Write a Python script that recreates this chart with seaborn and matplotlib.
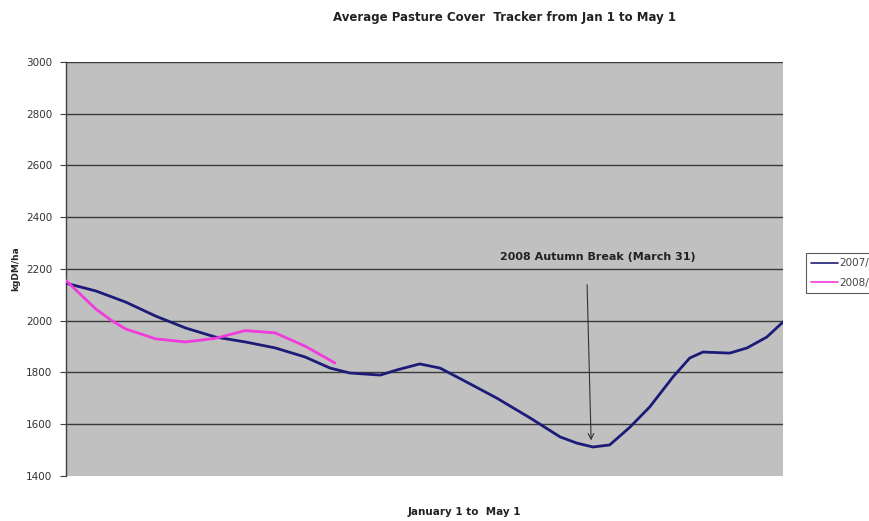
import pandas as pd
import matplotlib.pyplot as plt
import seaborn as sns

# days since Jan 1
days_0708 = [0, 2.5, 5, 10, 15, 20, 25, 30, 35, 40, 44.2, 47.5, 52.6, 55.4,
             59.2, 62.6, 66.4, 72.1, 77.7, 82.7, 85.5, 88.2, 91.0, 94.4, 97.7,
             101.6, 104.4, 106.6, 111.1, 114.0, 117.3, 120]
cover_0708 = [2145, 2130, 2115, 2072, 2018, 1972, 1937, 1918, 1895, 1860, 1817,
              1798, 1790, 1810, 1833, 1817, 1771, 1701, 1624, 1551, 1527, 1512,
              1520, 1589, 1667, 1783, 1856, 1879, 1875, 1895, 1937, 1995]

days_0809 = [0, 2.5, 5, 7.5, 10, 15, 20, 25, 30, 35, 40, 45]
cover_0809 = [2155, 2100, 2045, 2003, 1968, 1930, 1918, 1932, 1962, 1953, 1902,
              1837]

labels = ["2007/08", "2008/09"]
colors = ["#1c1c78", "#f03cdc"]

df = pd.concat([
    pd.DataFrame({"day": days_0708, "cover": cover_0708, "season": labels[0]}),
    pd.DataFrame({"day": days_0809, "cover": cover_0809, "season": labels[1]}),
])

sns.set_style("white")
plt.rcParams["font.family"] = ["DejaVu Sans"]

fig = plt.figure(figsize=(8.69, 5.21), dpi=100)
ax = fig.add_axes([0.076, 0.0864, 0.825, 0.7946])
ax.set_facecolor("#c0c0c0")

for y in range(1600, 3001, 200):
    ax.axhline(y, color="#3a3a3a", lw=1.0, zorder=1)

sns.lineplot(
    data=df, x="day", y="cover", hue="season",
    palette=dict(zip(labels, colors)), linewidth=2.0,
    ax=ax, zorder=3
)

ax.set_xlim(0, 120)
ax.set_ylim(1400, 3000)
ax.set_yticks(range(1400, 3001, 200))
ax.set_xticks([])
ax.tick_params(axis="y", labelsize=7.5, length=4, width=0.8,
               color="#404040", left=True, pad=6, labelcolor="#333333")

for s in ["top", "right", "bottom"]:
    ax.spines[s].set_visible(False)
ax.spines["left"].set_color("#404040")
ax.spines["left"].set_linewidth(1.0)

ax.set_ylabel("kgDM/ha", fontsize=6.5, fontweight="bold", labelpad=4,
              family="Liberation Sans Narrow")
ax.set_xlabel("")

fig.text(0.534, 0.017, "January 1 to  May 1", ha="center", va="center",
         fontsize=7.5, fontweight="bold", color="#222222")

fig.text(0.58, 0.967, "Average Pasture Cover  Tracker from Jan 1 to May 1",
         ha="center", va="center", fontsize=8.5, fontweight="bold", color="#222222")

ax.annotate("", xy=(87.9, 1527), xytext=(87.2, 2150),
            arrowprops=dict(arrowstyle="->", color="#333333", lw=0.8),
            zorder=4)
ax.text(89, 2246, "2008 Autumn Break (March 31)", ha="center", va="center",
        fontsize=8, fontweight="bold", color="#222222")

leg = ax.legend(loc="upper left", bbox_to_anchor=(1.025, 0.551), fontsize=7.5,
                frameon=True, fancybox=False, handlelength=2.6,
                borderpad=0.5, labelspacing=0.9, handletextpad=0.1)
leg.get_frame().set_edgecolor("#333333")
leg.get_frame().set_linewidth(0.8)
for line in leg.get_lines():
    line.set_linewidth(1.2)
for t in leg.get_texts():
    t.set_color("#444444")

fig.savefig("out.png", dpi=100)
